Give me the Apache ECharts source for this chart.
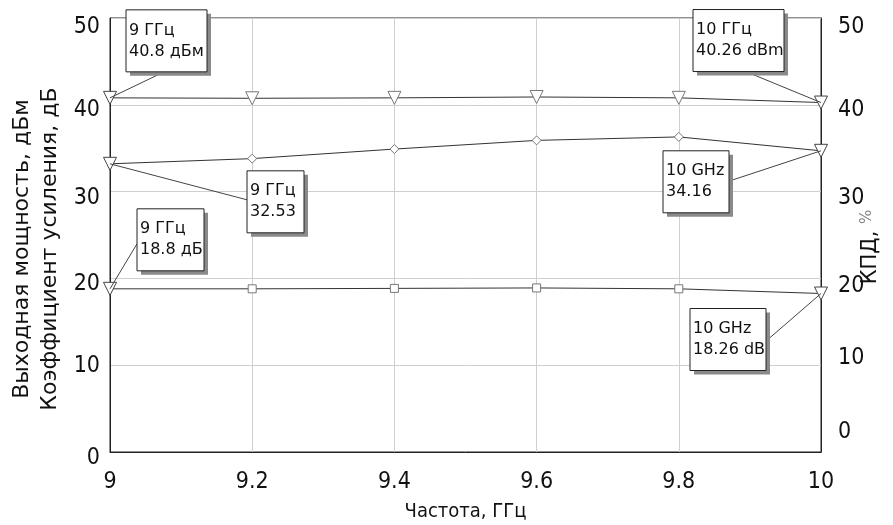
<!DOCTYPE html>
<html>
<head>
<meta charset="utf-8">
<script src="https://cdn.jsdelivr.net/npm/echarts@6/dist/echarts.min.js"></script>
<style>
html,body{margin:0;padding:0;background:#fff;}
#c{width:893px;height:525px;}
</style>
</head>
<body>
<div id="c"></div>
<script>
// ---- data ----
const freqGHz = [9, 9.2, 9.4, 9.6, 9.8, 10];
const powerDbm = [40.8, 40.75, 40.8, 40.9, 40.8, 40.26];
const efficiencyPct = [33.2, 33.8, 34.9, 35.9, 36.3, 34.7];
const gainDb = [18.8, 18.8, 18.85, 18.9, 18.8, 18.26];
const yTicksLeft = [0, 10, 20, 30, 40, 50];
const yTicksRight = [0, 10, 20, 30, 40, 50];
const xTickLabels = ['9', '9.2', '9.4', '9.6', '9.8', '10'];
const annotationTexts = [
  { series: 0, index: 0, text: '9 ГГц\n40.8 дБм' },
  { series: 0, index: 5, text: '10 ГГц\n40.26 dBm' },
  { series: 1, index: 0, text: '9 ГГц\n32.53' },
  { series: 1, index: 5, text: '10 GHz\n34.16' },
  { series: 2, index: 0, text: '9 ГГц\n18.8 дБ' },
  { series: 2, index: 5, text: '10 GHz\n18.26 dB' }
];
const xAxisTitle = 'Частота, ГГц';
const leftAxisTitle = 'Выходная мощность, дБм\nКоэффициент усиления, дБ';
const rightAxisTitleMain = 'КПД, ';
const rightAxisTitleUnit = '%';

// ---- layout / style (not data) ----
const boxLayout = [
  { dx: 16, dy: -88, w: 81, h: 62, lx: 50, ly: -24 },
  { dx: -128, dy: -93, w: 91, h: 62, lx: -68, ly: -28 },
  { dx: 137, dy: 7, w: 57, h: 62, lx: 137, ly: 36 },
  { dx: -158, dy: 0, w: 66, h: 62, lx: -88, ly: 29 },
  { dx: 27, dy: -80, w: 67, h: 62, lx: 27, ly: -45 },
  { dx: -131, dy: 15, w: 76, h: 62, lx: -52, ly: 45 }
];
// vertical label nudges (px, + = down), per tick
const leftNudge = { 0: 6, 10: 1, 20: 6, 30: 6, 40: 5, 50: 9 };
const rightNudge = { 0: -20, 10: -7, 20: 8, 30: 6, 40: 5, 50: 9 };
const tickFont = '"DejaVu Sans Condensed", "Liberation Sans Narrow", "DejaVu Sans", sans-serif';
const boxFont = '"DejaVu Sans", sans-serif';

function nudgeRich(nudges) {
  const rich = {};
  Object.keys(nudges).forEach(k => {
    const d = nudges[k];
    rich['t' + k] = {
      fontFamily: tickFont, fontSize: 23, color: '#111',
      padding: d >= 0 ? [2 * d, 0, 0, 0] : [0, 0, -2 * d, 0]
    };
  });
  return rich;
}

function buildData(values, midSymbol, midSize, midRotate) {
  const last = values.length - 1;
  return values.map((v, i) => {
    const end = (i === 0 || i === last);
    return {
      value: [freqGHz[i], v],
      symbol: end ? 'triangle' : midSymbol,
      symbolSize: end ? 13 : midSize,
      symbolRotate: end ? 180 : midRotate,
      itemStyle: { borderColor: end ? '#444' : '#777' }
    };
  });
}

const seriesCommon = {
  type: 'line',
  lineStyle: { color: '#333', width: 1 },
  itemStyle: { color: '#fff', borderColor: '#777', borderWidth: 1 },
  showAllSymbol: true,
  z: 3
};

const chart = echarts.init(document.getElementById('c'), null, { renderer: 'canvas' });
chart.setOption({
  animation: false,
  backgroundColor: '#fff',
  grid: {
    left: 110, right: 72, top: 18, bottom: 73,
    containLabel: false, outerBoundsMode: 'none',
    show: true, borderColor: '#222', borderWidth: 1, backgroundColor: 'transparent'
  },
  xAxis: {
    type: 'value', min: 9, max: 10, interval: 0.2,
    name: xAxisTitle, nameLocation: 'middle', nameGap: 50, nameMoveOverlap: false,
    nameTextStyle: { fontFamily: tickFont, fontSize: 20, color: '#111' },
    axisLine: { show: true, lineStyle: { color: '#222' } },
    axisTick: { show: false },
    axisLabel: {
      margin: 19, fontFamily: tickFont, fontSize: 23, color: '#111',
      formatter: (v) => { const i = freqGHz.findIndex(f => Math.abs(f - v) < 1e-6); return i >= 0 ? xTickLabels[i] : ''; }
    },
    splitLine: { show: true, lineStyle: { color: '#cfcfcf', width: 1 } }
  },
  yAxis: [
    {
      type: 'value', min: 0, max: 50, interval: 10, position: 'left',
      name: leftAxisTitle, nameLocation: 'middle', nameGap: 46, nameRotate: 90, nameMoveOverlap: false,
      nameTextStyle: { fontFamily: boxFont, fontSize: 22, color: '#111', lineHeight: 28, padding: [0, 28, 0, 0] },
      axisLine: { show: true, lineStyle: { color: '#222' } },
      axisTick: { show: false },
      axisLabel: {
        margin: 10, fontFamily: tickFont, fontSize: 23, color: '#111',
        formatter: (v) => yTicksLeft.indexOf(v) >= 0 ? '{t' + v + '|' + v + '}' : '',
        rich: nudgeRich(leftNudge)
      },
      splitLine: { show: true, lineStyle: { color: '#cfcfcf', width: 1 } }
    },
    {
      type: 'value', min: 0, max: 50, interval: 10, position: 'right',
      name: '{m|' + rightAxisTitleMain + '}{u|' + rightAxisTitleUnit + '}',
      nameLocation: 'middle', nameGap: 39, nameRotate: 90, nameMoveOverlap: false,
      nameTextStyle: {
        padding: [0, 24, 0, 0],
        rich: {
          m: { fontFamily: boxFont, fontSize: 21, color: '#111' },
          u: { fontFamily: boxFont, fontSize: 15, color: '#888', verticalAlign: 'top' }
        }
      },
      axisLine: { show: true, lineStyle: { color: '#222' } },
      axisTick: { show: false },
      axisLabel: {
        margin: 17, fontFamily: tickFont, fontSize: 23, color: '#111',
        formatter: (v) => yTicksRight.indexOf(v) >= 0 ? '{t' + v + '|' + v + '}' : '',
        rich: nudgeRich(rightNudge)
      },
      splitLine: { show: false }
    }
  ],
  series: [
    Object.assign({}, seriesCommon, { name: 'Pout', yAxisIndex: 0, data: buildData(powerDbm, 'triangle', 13, 180) }),
    Object.assign({}, seriesCommon, { name: 'PAE', yAxisIndex: 0, data: buildData(efficiencyPct, 'diamond', 9, 0) }),
    Object.assign({}, seriesCommon, { name: 'Gain', yAxisIndex: 0, data: buildData(gainDb, 'rect', 8, 0) })
  ]
});

const seriesValues = [powerDbm, efficiencyPct, gainDb];
const elements = [];
annotationTexts.forEach((a, k) => {
  const L = boxLayout[k];
  const p = chart.convertToPixel({ gridIndex: 0 }, [freqGHz[a.index], seriesValues[a.series][a.index]]);
  const bx = p[0] + L.dx, by = p[1] + L.dy;
  elements.push({
    type: 'line', z: 50, silent: true,
    shape: { x1: p[0], y1: p[1], x2: p[0] + L.lx, y2: p[1] + L.ly },
    style: { stroke: '#444', lineWidth: 1 }
  });
  elements.push({
    type: 'rect', z: 51, silent: true,
    shape: { x: bx + 4, y: by + 4, width: L.w, height: L.h },
    style: { fill: '#8a8a8a' }
  });
  elements.push({
    type: 'rect', z: 52, silent: true,
    shape: { x: bx, y: by, width: L.w, height: L.h },
    style: { fill: '#fff', stroke: '#222', lineWidth: 1 }
  });
  elements.push({
    type: 'text', z: 53, silent: true,
    x: bx + 3, y: by + L.h / 2,
    style: { text: a.text, fontFamily: boxFont, fontSize: 16, lineHeight: 21, fill: '#111', verticalAlign: 'middle', align: 'left' }
  });
});
chart.setOption({ graphic: elements });
</script>
</body>
</html>
